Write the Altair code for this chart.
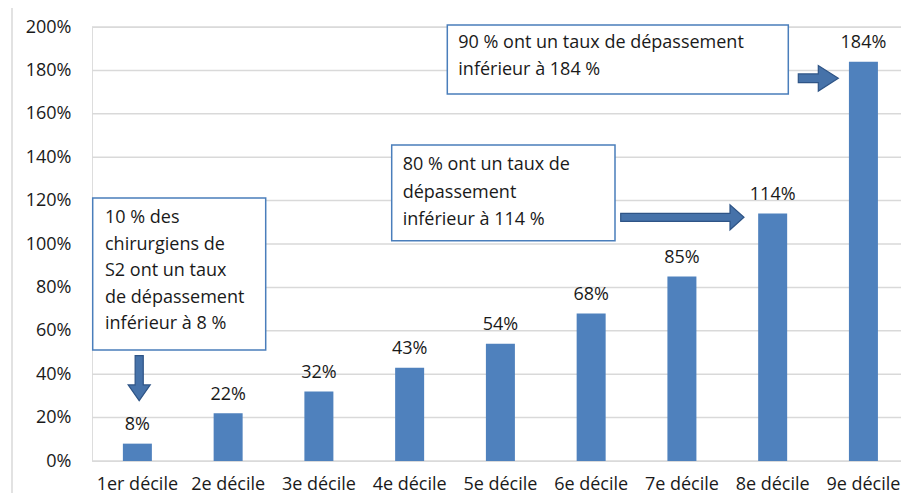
import altair as alt
import pandas as pd

categories = ["1er décile", "2e décile", "3e décile", "4e décile", "5e décile",
              "6e décile", "7e décile", "8e décile", "9e décile"]
values = [8, 22, 32, 43, 54, 68, 85, 114, 184]
value_labels = ["8%", "22%", "32%", "43%", "54%", "68%", "85%", "114%", "184%"]
y_ticks = [0, 20, 40, 60, 80, 100, 120, 140, 160, 180, 200]

note1 = ["10 % des", "chirurgiens de", "S2 ont un taux", "de dépassement", "inférieur à 8 %"]
note2 = ["80 % ont un taux de", "dépassement", "inférieur à 114 %"]
note3 = ["90 % ont un taux de dépassement", "inférieur à 184 %"]

df = pd.DataFrame({"decile": categories, "taux": values, "label": value_labels})
ticks_df = pd.DataFrame({"t": y_ticks})
one = pd.DataFrame({"k": [0]})

FONT = "Open Sans"
FS = 18
TXT = "#1a1a1a"
BAR = "#4F81BD"
BOX = "#4a7ebb"
GRID = "#d9d9d9"
ARW_FILL = "#4672a9"
ARW_STROKE = "#2e5486"

x_enc = alt.X(
    "decile:N", sort=categories,
    scale=alt.Scale(range=[0, 816.8], paddingInner=0, paddingOuter=0),
    axis=alt.Axis(title=None, labelAngle=0, ticks=False, domain=False,
                  labelFont=FONT, labelFontSize=FS, labelColor=TXT, labelPadding=14),
)
y_scale = alt.Scale(domain=[0, 200], nice=False)
y_enc = alt.Y(
    "taux:Q", scale=y_scale,
    axis=alt.Axis(title=None, values=y_ticks, labelExpr="datum.value + '%'",
                  grid=False, domain=False, ticks=False, labelFont=FONT, labelFontSize=FS,
                  labelColor=TXT, labelPadding=21),
)

grid = alt.Chart(ticks_df).mark_rule(color=GRID, strokeWidth=1.5).encode(
    y=alt.Y("t:Q", scale=y_scale), x=alt.value(0), x2=alt.value(809))

base = alt.Chart(df)
bars = base.mark_bar(size=29, color=BAR).encode(x=x_enc, y=y_enc)
vlabels = base.mark_text(font=FONT, fontSize=FS, color=TXT, baseline="alphabetic", dy=-13.5).encode(
    x=alt.X("decile:N", sort=categories), y="taux:Q", text="label:N")

frame_left = alt.Chart(one).mark_rule(color=GRID, strokeWidth=1.5).encode(
    x=alt.value(-80), y=alt.value(-20), y2=alt.value(466))
frame_top = alt.Chart(one).mark_rule(color=GRID, strokeWidth=1.5).encode(
    x=alt.value(-80), x2=alt.value(809), y=alt.value(-20))


def box(x1, x2, y1, y2):
    return alt.Chart(one).mark_rect(fill="white", stroke=BOX, strokeWidth=1.5).encode(
        x=alt.value(x1), x2=alt.value(x2), y=alt.value(y1), y2=alt.value(y2))


def note(lines, x, y0, lh):
    layers = []
    for i, line in enumerate(lines):
        layers.append(alt.Chart(one).mark_text(font=FONT, fontSize=FS, color=TXT, align="left",
                                               baseline="middle").encode(
            x=alt.value(x), y=alt.value(y0 + i * lh), text=alt.value(line)))
    return alt.layer(*layers)


def arrow(path, x, y, length):
    return alt.Chart(one).mark_point(shape=path, filled=True, fill=ARW_FILL, stroke=ARW_STROKE,
                                     strokeWidth=1.2, opacity=1).encode(
        x=alt.value(x), y=alt.value(y), size=alt.value(length * length))


right2 = "M-1,-0.065L0.773,-0.065L0.773,-0.203L1,0L0.773,0.203L0.773,0.065L-1,0.065Z"
right3 = "M-1,-0.22L0,-0.22L0,-0.64L1,0L0,0.64L0,0.22L-1,0.22Z"
down1 = "M-0.18,-1L0.18,-1L0.18,0.3L0.49,0.3L0,1L-0.49,0.3L-0.18,0.3Z"

chart = alt.layer(
    frame_left, frame_top, grid, bars, vlabels,
    box(0.7, 173.7, 171, 323), note(note1, 13, 191, 26.5),
    box(299.7, 523, 118, 213.7), note(note2, 310.7, 138, 27.5),
    box(355.3, 696.3, -2, 67), note(note3, 366.3, 16, 27),
    arrow(down1, 47.2, 351.2, 45),
    arrow(right2, 590.35, 190.3, 123.3),
    arrow(right3, 726.3, 51.3, 40),
).properties(
    width=809, height=434,
    autosize=alt.AutoSizeParams(type="none"),
    padding={"left": 84, "top": 19, "right": 0, "bottom": 32},
).configure_view(stroke=None).configure(background="white")

chart.save("out.html", embed_options={"renderer": "svg", "actions": False})
